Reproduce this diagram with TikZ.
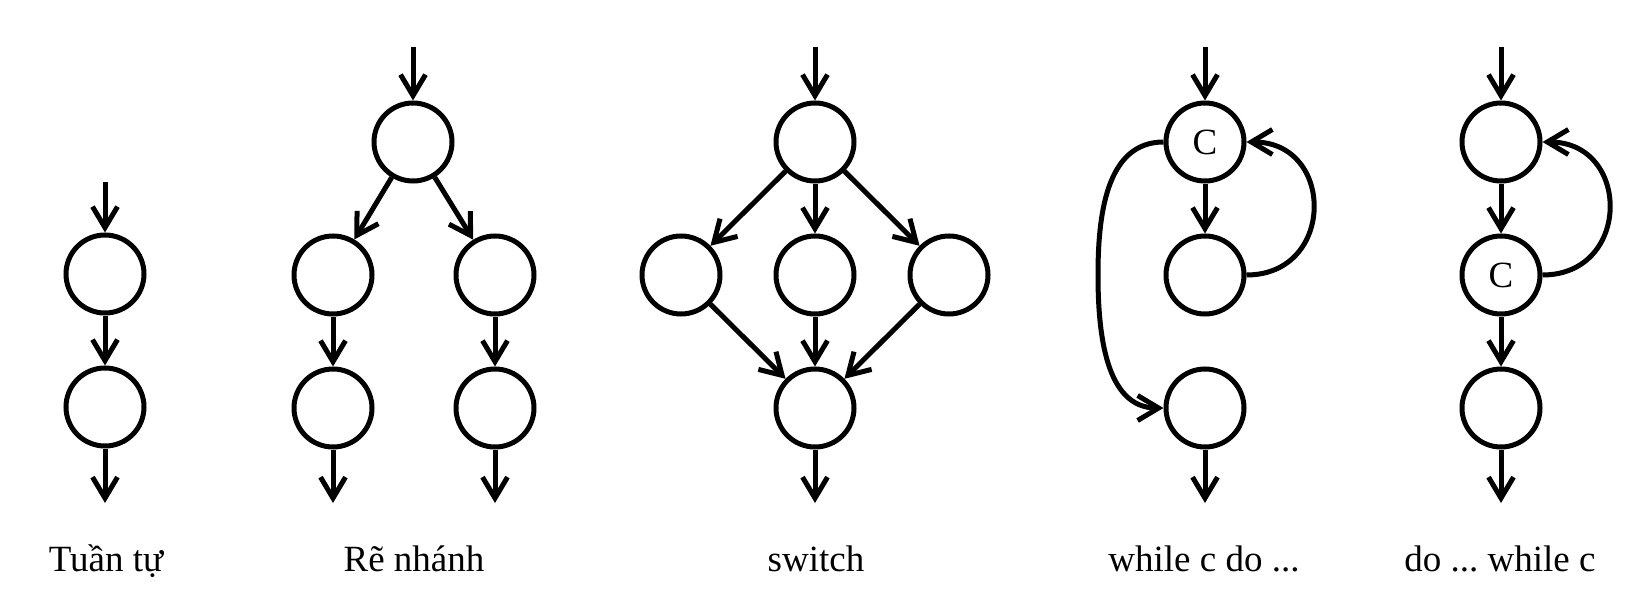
\documentclass[tikz,border=0pt]{standalone}
\usepackage{fontspec}
\setmainfont{Liberation Serif}
\usetikzlibrary{arrows.meta,calc}
\begin{document}
\frenchspacing
\begin{tikzpicture}[x=1pt,y=-1pt,
  st/.style={circle,draw,line width=5pt,minimum size=78pt,inner sep=0pt,font=\fontsize{37}{40}\selectfont},
  arr/.style={line width=5pt,-{Straight Barb[length=21pt,width=25pt]}},
  lbl/.style={anchor=base,inner sep=0pt,font=\fontsize{37}{40}\selectfont}]
\useasboundingbox (0,0) rectangle (1647,607);
% Tuan tu
\coordinate (a0) at (105,182);
\node[st] (a1) at (105,274) {};
\node[st] (a2) at (105,407) {};
\coordinate (a3) at (105,503);
\draw[arr] (a0) -- (a1);
\draw[arr] (a1) -- (a2);
\draw[arr] (a2) -- (a3);
\node[lbl] (la) at (106,571) {Tuần tự};
% Re nhanh
\coordinate (b0) at (413,47);
\node[st] (b1) at (413,142) {};
\node[st] (b2) at (333,275) {};
\node[st] (b3) at (333,408) {};
\node[st] (b4) at (495,275) {};
\node[st] (b5) at (495,408) {};
\coordinate (b6) at (333,503);
\coordinate (b7) at (495,503);
\draw[arr] (b0) -- (b1);
\draw[arr] (b1) -- (b2);
\draw[arr] (b1) -- (b4);
\draw[arr] (b2) -- (b3);
\draw[arr] (b4) -- (b5);
\draw[arr] (b3) -- (b6);
\draw[arr] (b5) -- (b7);
\node[lbl] (lb) at (414,571) {Rẽ nhánh};
% switch
\coordinate (c0) at (815,47);
\node[st] (c1) at (815,142) {};
\node[st] (c2) at (681,275) {};
\node[st] (c3) at (815,275) {};
\node[st] (c4) at (949,275) {};
\node[st] (c5) at (815,408) {};
\coordinate (c6) at (815,503);
\draw[arr] (c0) -- (c1);
\draw[arr] (c1) -- (c2);
\draw[arr] (c1) -- (c3);
\draw[arr] (c1) -- (c4);
\draw[arr] (c2) -- (c5);
\draw[arr] (c3) -- (c5);
\draw[arr] (c4) -- (c5);
\draw[arr] (c5) -- (c6);
\node[lbl] (lc) at (816,571) {switch};
% while
\coordinate (w0) at (1205,47);
\node[st] (w1) at (1205,142) {C};
\node[st] (w2) at (1205,275) {};
\node[st] (w3) at (1205,408) {};
\coordinate (w4) at (1205,503);
\coordinate (wl) at (1098,275);
\draw[arr] (w0) -- (w1);
\draw[arr] (w1) -- (w2);
\draw[arr] (w3) -- (w4);
\draw[arr] (w2.east) .. controls +(89,0) and +(89,0) .. (w1.east);
\draw[arr] (w1.west) .. controls +(-58,0) and +(0,-58) .. (wl) .. controls +(0,58) and +(-58,0) .. (w3.west);
\node[lbl] (lw) at (1204,571) {while c do ...};
% do while
\coordinate (d0) at (1501,47);
\node[st] (d1) at (1501,142) {};
\node[st] (d2) at (1501,275) {C};
\node[st] (d3) at (1501,408) {};
\coordinate (d4) at (1501,503);
\draw[arr] (d0) -- (d1);
\draw[arr] (d1) -- (d2);
\draw[arr] (d2) -- (d3);
\draw[arr] (d3) -- (d4);
\draw[arr] (d2.east) .. controls +(89,0) and +(89,0) .. (d1.east);
\node[lbl] (ld) at (1500,571) {do ... while c};
\end{tikzpicture}
\end{document}
